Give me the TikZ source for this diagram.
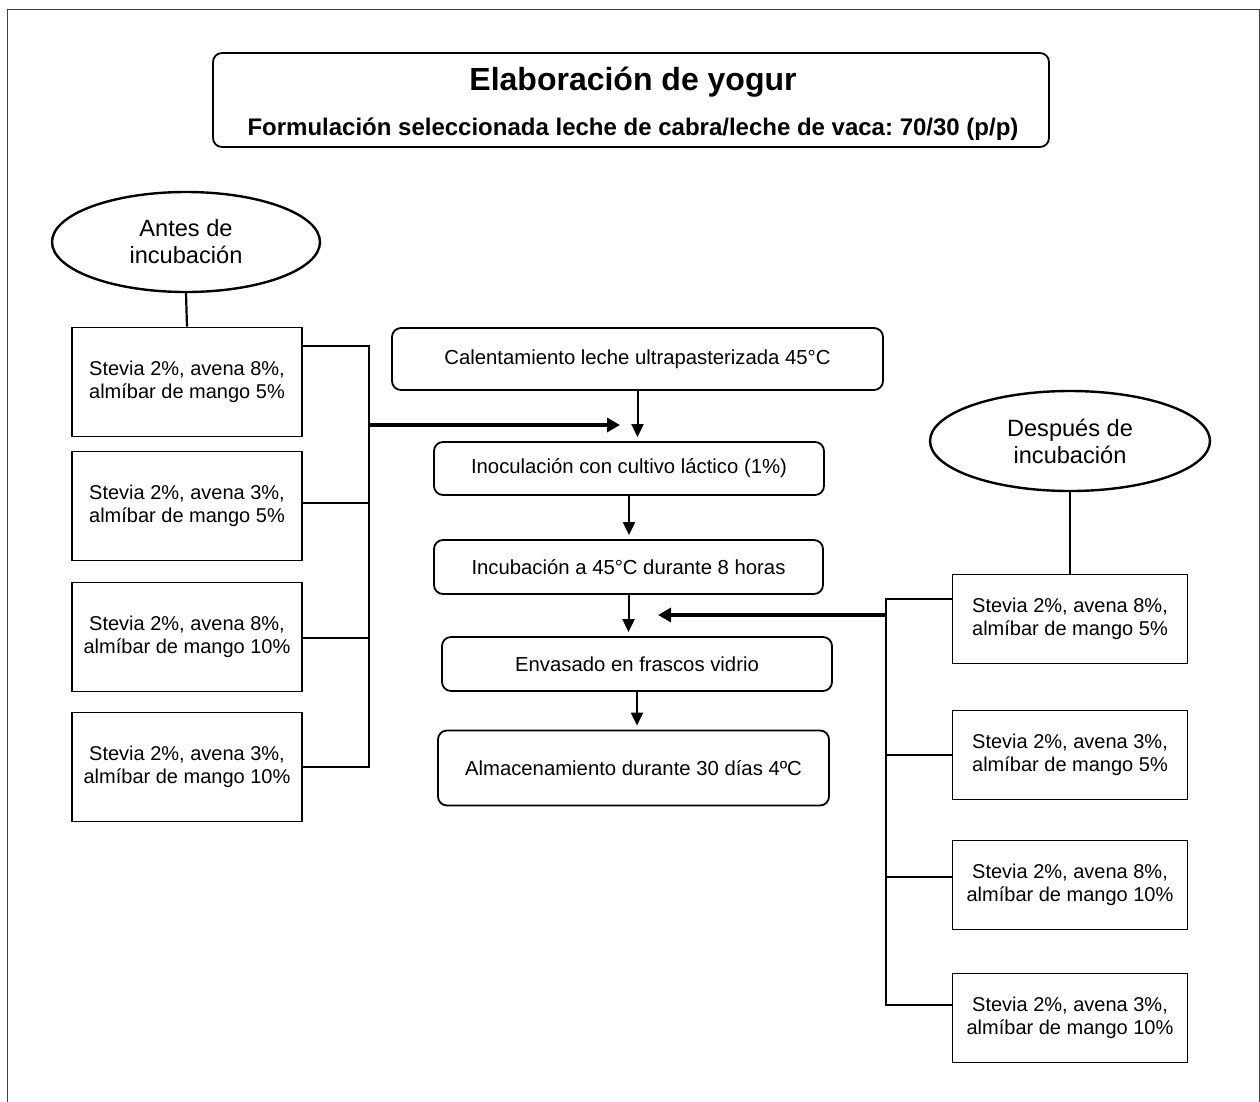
\documentclass[tikz,border=0pt]{standalone}
\usepackage{fontspec}
\setmainfont{Liberation Sans}
\frenchspacing
\usetikzlibrary{shapes.geometric,arrows.meta}
\begin{document}
\begin{tikzpicture}[x=1pt,y=-1pt,
  box/.style={draw,line width=1.8pt,minimum width=230pt,minimum height=109pt,inner sep=0pt,align=center,font=\fontsize{20}{23}\selectfont},
  rbox/.style={draw,line width=1.8pt,rounded corners=9pt,inner sep=0pt,align=center,font=\fontsize{20.3}{23}\selectfont},
  oval/.style={draw,ellipse,line width=2.4pt,minimum height=100pt,inner sep=0pt,align=center,font=\fontsize{23.6}{27}\selectfont},
  link/.style={line width=1.8pt},
  arr/.style={line width=2pt,shorten >=4pt,-{Triangle[length=13pt,width=12pt]}},
  bigarr/.style={line width=4pt,-{Triangle[length=13pt,width=14pt]}}]
\useasboundingbox (0,0) rectangle (1260,1101);
\draw[line width=1pt,black!75] (7,1120) -- (7,9) -- (1259,9) -- (1259,1120);
\node[rbox,minimum width=836pt,minimum height=94pt] (title) at (631,100) {};
\node[font=\fontsize{32}{38}\selectfont\bfseries] (head) at (633,82) {Elaboración de yogur};
\node[font=\fontsize{24}{28}\selectfont\bfseries] (sub) at (633,129) {Formulación seleccionada leche de cabra/leche de vaca: 70/30 (p/p)};
\node[oval,minimum width=268pt] (antes) at (186,242) {Antes de\\incubación};
\node[oval,minimum width=280pt] (despues) at (1070,441) {Después de\\incubación};
\node[box] (l1) at (187,382) {Stevia 2\%, avena 8\%,\\almíbar de mango 5\%};
\node[box] (l2) at (187,506) {Stevia 2\%, avena 3\%,\\almíbar de mango 5\%};
\node[box] (l3) at (187,637) {Stevia 2\%, avena 8\%,\\almíbar de mango 10\%};
\node[box] (l4) at (187,767) {Stevia 2\%, avena 3\%,\\almíbar de mango 10\%};
\node[box,minimum width=235pt,minimum height=89pt] (r1) at (1070,619) {Stevia 2\%, avena 8\%,\\almíbar de mango 5\%};
\node[box,minimum width=235pt,minimum height=89pt] (r2) at (1070,755) {Stevia 2\%, avena 3\%,\\almíbar de mango 5\%};
\node[box,minimum width=235pt,minimum height=89pt] (r3) at (1070,885) {Stevia 2\%, avena 8\%,\\almíbar de mango 10\%};
\node[box,minimum width=235pt,minimum height=89pt] (r4) at (1070,1018) {Stevia 2\%, avena 3\%,\\almíbar de mango 10\%};
\node[rbox,minimum width=491pt,minimum height=62pt] (c1) at (637.5,359) {Calentamiento leche ultrapasterizada 45°C};
\node[rbox,minimum width=390pt,minimum height=53pt] (c2) at (629,468.5) {Inoculación con cultivo láctico (1\%)};
\node[rbox,minimum width=389pt,minimum height=54pt] (c3) at (628.5,567) {Incubación a 45°C durante 8 horas};
\node[rbox,minimum width=390pt,minimum height=54pt] (c4) at (637,664) {Envasado en frascos vidrio};
\node[rbox,minimum width=391pt,minimum height=75pt] (c5) at (633.5,768) {Almacenamiento durante 30 días 4ºC};
\draw[arr] (c1.south) -- (c1.south |- c2.north);
\draw[arr] (c2.south) -- (c2.south |- c3.north);
\draw[arr] (c3.south) -- (c3.south |- c4.north);
\draw[arr] (c4.south) -- (c4.south |- c5.north);
\draw[link,line width=2.2pt] (antes.south) -- (l1.north);
\draw[link,line width=2.2pt] (despues.south) -- (r1.north);
\coordinate (lb1) at (369,346);
\coordinate (lb2) at (369,503);
\coordinate (lb3) at (369,638);
\coordinate (lb4) at (369,767);
\coordinate (lbm) at (369,425);
\coordinate (ltip) at (620,425);
\draw[link] (l1.east |- lb1) -- (lb1) -- (lb4) -- (l4.east |- lb4);
\draw[link] (l2.east |- lb2) -- (lb2);
\draw[link] (l3.east |- lb3) -- (lb3);
\draw[bigarr] (lbm) -- (ltip);
\coordinate (rb1) at (886,599);
\coordinate (rb2) at (886,755);
\coordinate (rb3) at (886,877);
\coordinate (rb4) at (886,1005);
\coordinate (rbm) at (886,615);
\coordinate (rtip) at (658,615);
\draw[link] (r1.west |- rb1) -- (rb1) -- (rb4) -- (r4.west |- rb4);
\draw[link] (r2.west |- rb2) -- (rb2);
\draw[link] (r3.west |- rb3) -- (rb3);
\draw[bigarr] (rbm) -- (rtip);
\end{tikzpicture}
\end{document}
